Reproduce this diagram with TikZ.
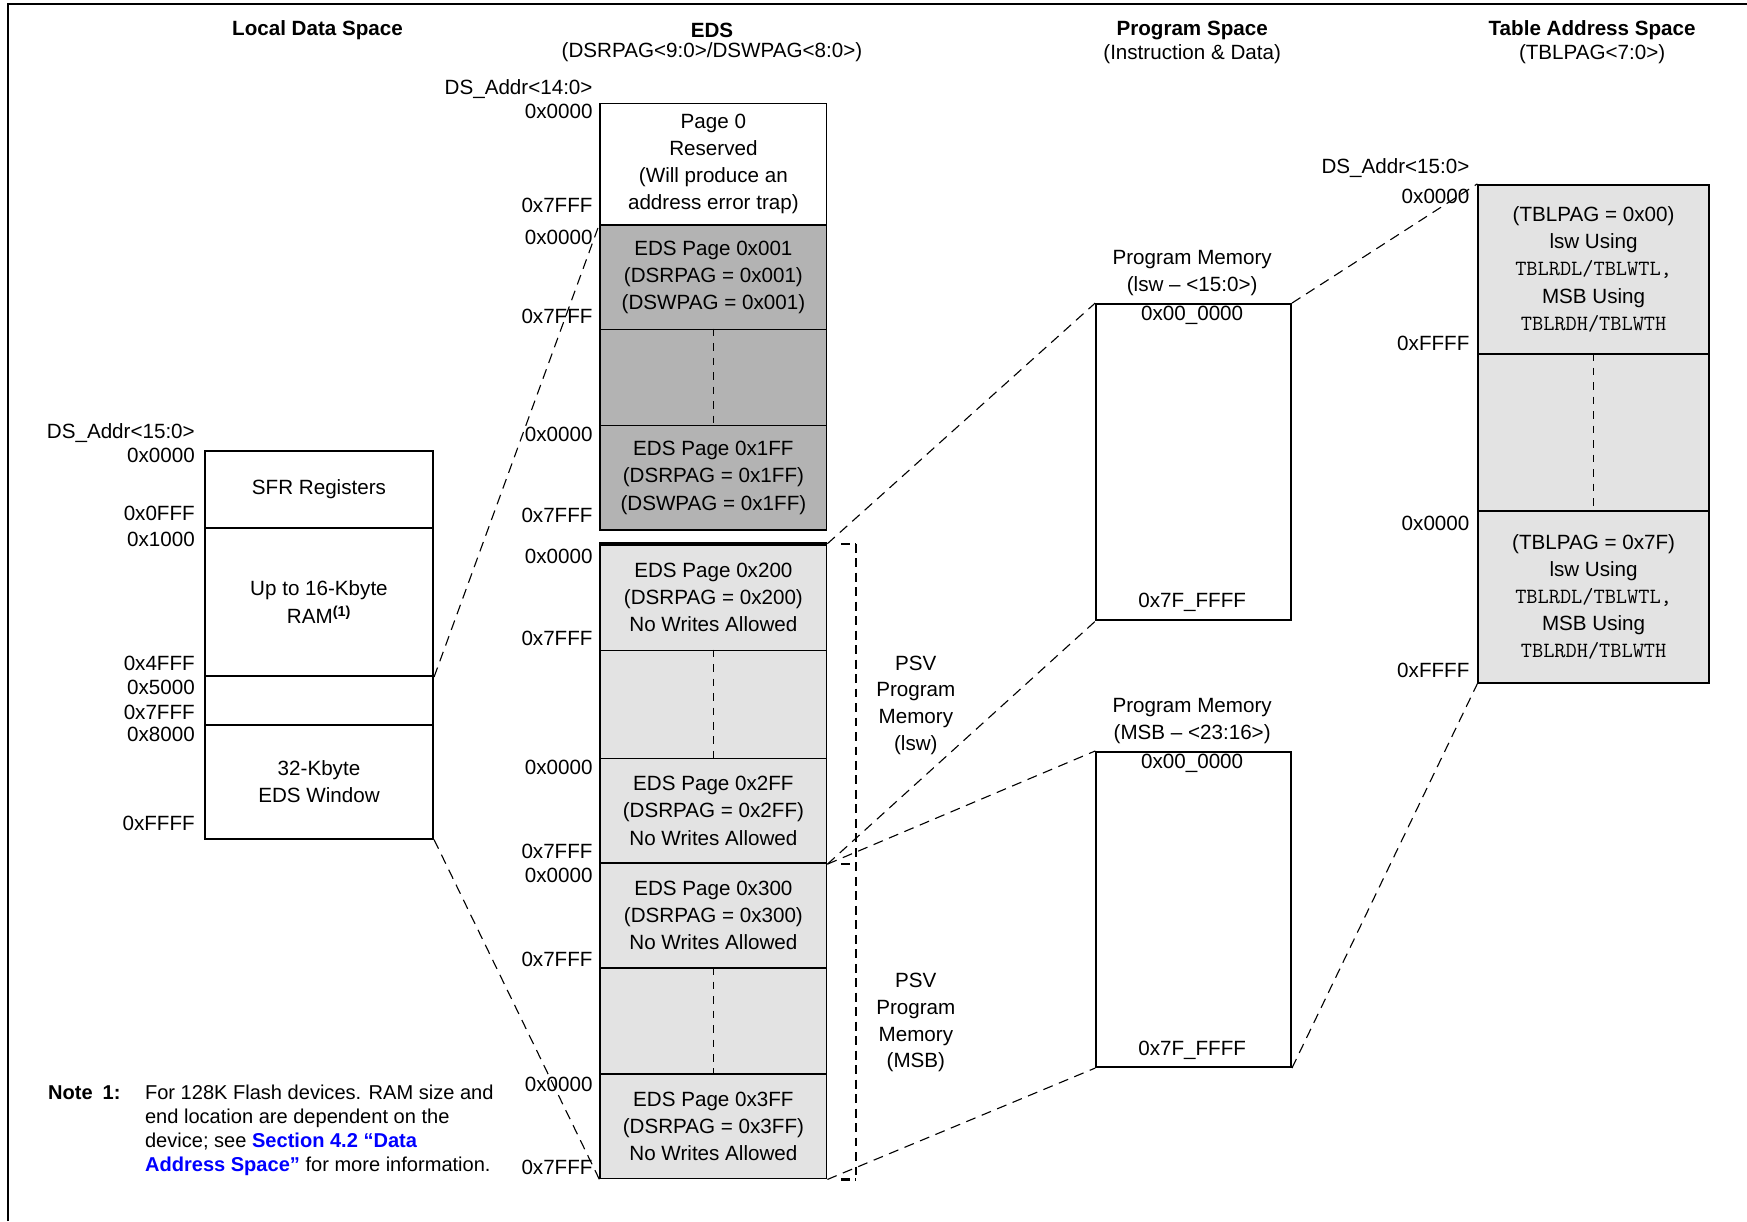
\documentclass[tikz,border=0pt]{standalone}
\usepackage{fontspec}
\setmainfont{Liberation Sans}
\usepackage{tikz}
\usetikzlibrary{positioning}
\usepackage{xcolor}
\definecolor{pagedark}{RGB}{179,179,179}
\definecolor{pagelight}{RGB}{227,227,227}
\definecolor{linkblue}{RGB}{0,0,255}
\tikzset{membox/.style={draw=black, line width=1.6pt, inner sep=0pt, anchor=north west, align=center, font=\fontsize{18.5}{24.4}\selectfont},
darkpage/.style={membox, fill=pagedark},
lightpage/.style={membox, fill=pagelight}}
\tikzset{addrlabel/.style={anchor=east, inner sep=0pt, font=\fontsize{18.5}{22}\selectfont},
plainlabel/.style={inner sep=0pt, align=center, font=\fontsize{18.5}{24}\selectfont},
titlelabel/.style={inner sep=0pt, font=\fontsize{18.5}{22}\selectfont},
notetext/.style={inner sep=0pt, align=left, font=\fontsize{18}{21.4}\selectfont},
maplink/.style={draw=black, line width=1pt, dash pattern=on 9pt off 6pt},
gapline/.style={draw=black, line width=1.2pt, dash pattern=on 7pt off 6pt},
psvbracket/.style={draw=black, line width=2pt, dash pattern=on 8pt off 5pt}}

\begin{document}
\begin{tikzpicture}[x=1pt, y=-1pt, line join=miter]
        \useasboundingbox (0,0) rectangle (1568,1096);
        % Frame
        \draw[line width=1.8pt] (7,1096) -- (7,4) -- (1568,4);
        % Titles
        \node[titlelabel] (localtitle) at (285,27) {\bfseries Local Data Space};
        \node[titlelabel] (edstitle) at (639,27) {\bfseries EDS};
        \node[titlelabel] (edssub) at (639,47) {(DSRPAG<9:0>/DSWPAG<8:0>)};
        \node[titlelabel] (progtitle) at (1070,27) {\bfseries Program Space};
        \node[titlelabel] (progsub) at (1070,49) {(Instruction \& Data)};
        \node[titlelabel] (tbltitle) at (1429,27) {\bfseries Table Address Space};
        \node[titlelabel] (tblsub) at (1429,49) {(TBLPAG<7:0>)};
        % Local data space
        \node[membox, minimum width=205pt, minimum height=69pt] (sfr) at (183,404) {SFR Registers};
        \node[membox, minimum width=205pt, minimum height=133pt] (ram) at (183,473) {Up to 16-Kbyte\\RAM\textsuperscript{\textbf{(1)}}};
        \node[membox, minimum width=205pt, minimum height=44pt] (resv) at (183,606) {};
        \node[membox, minimum width=205pt, minimum height=102pt] (edswin) at (183,650) {32-Kbyte\\EDS Window};
        \node[addrlabel] (ldsaddr) at (175,389) {DS\_Addr<15:0>};
        \foreach \y/\addr in {409/0x0000, 461/0x0FFF, 484/0x1000, 595/0x4FFF, 617/0x5000, 639/0x7FFF, 659/0x8000, 739/0xFFFF} {
            \node[addrlabel] (loc\y) at (175,\y) {\addr};
        }
        % EDS pages
        \node[membox, minimum width=203pt, minimum height=109pt] (page0) at (538,92) {Page 0\\Reserved\\(Will produce an\\address error trap)};
        \node[darkpage, minimum width=203pt, minimum height=94pt] (p001) at (538,201) {EDS Page 0x001\\(DSRPAG = 0x001)\\(DSWPAG = 0x001)};
        \node[darkpage, minimum width=203pt, minimum height=86pt] (gapA) at (538,295) {};
        \node[darkpage, minimum width=203pt, minimum height=94pt] (p1FF) at (538,381) {EDS Page 0x1FF\\(DSRPAG = 0x1FF)\\(DSWPAG = 0x1FF)};
        \node[lightpage, minimum width=203pt, minimum height=95pt] (p200) at (538,488) {EDS Page 0x200\\(DSRPAG = 0x200)\\No Writes Allowed};
        \node[lightpage, minimum width=203pt, minimum height=97pt] (gapB) at (538,583) {};
        \node[lightpage, minimum width=203pt, minimum height=94pt] (p2FF) at (538,680) {EDS Page 0x2FF\\(DSRPAG = 0x2FF)\\No Writes Allowed};
        \node[lightpage, minimum width=203pt, minimum height=94pt] (p300) at (538,774) {EDS Page 0x300\\(DSRPAG = 0x300)\\No Writes Allowed};
        \node[lightpage, minimum width=203pt, minimum height=95pt] (gapC) at (538,868) {};
        \node[lightpage, minimum width=203pt, minimum height=94pt] (p3FF) at (538,963) {EDS Page 0x3FF\\(DSRPAG = 0x3FF)\\No Writes Allowed};
        \draw[line width=2.6pt] (p200.north west) -- (p200.north east);
        \foreach \gap in {gapA, gapB, gapC} {
            \draw[gapline] (\gap.north) -- (\gap.south);
        }
        \node[addrlabel] (edsaddr) at (532,80) {DS\_Addr<14:0>};
        \foreach \y/\addr in {100/0x0000, 184/0x7FFF, 213/0x0000, 284/0x7FFF, 390/0x0000, 463/0x7FFF, 499/0x0000, 573/0x7FFF, 689/0x0000, 764/0x7FFF, 786/0x0000, 861/0x7FFF, 973/0x0000, 1048/0x7FFF} {
            \node[addrlabel] (eds\y) at (532,\y) {\addr};
        }
        % PSV bracket
        \draw[psvbracket] ([xshift=26pt]p200.north east) -- ([xshift=26pt]p3FF.south east);
        \draw[psvbracket] ([xshift=12pt]p200.north east) -- ([xshift=26pt]p200.north east);
        \draw[psvbracket] ([xshift=12pt]p2FF.south east) -- ([xshift=26pt]p2FF.south east);
        \draw[psvbracket] ([xshift=12pt]p3FF.south east) -- ([xshift=26pt]p3FF.south east);
        \node[plainlabel] (psvlsw) at (822,633) {PSV\\Program\\Memory\\(lsw)};
        \node[plainlabel] (psvmsb) at (822,918) {PSV\\Program\\Memory\\(MSB)};
        % Program space
        \node[plainlabel] (pmlswhead) at (1070,245) {Program Memory\\(lsw – <15:0>)};
        \node[membox, minimum width=175pt, minimum height=284pt] (pmlsw) at (983,272) {};
        \node[plainlabel] (pmlswlo) at (1070,283) {0x00\_0000};
        \node[plainlabel] (pmlswhi) at (1070,541) {0x7F\_FFFF};
        \node[plainlabel] (pmmsbhead) at (1070,647) {Program Memory\\(MSB – <23:16>)};
        \node[membox, minimum width=175pt, minimum height=283pt] (pmmsb) at (983,674) {};
        \node[plainlabel] (pmmsblo) at (1070,685) {0x00\_0000};
        \node[plainlabel] (pmmsbhi) at (1070,943) {0x7F\_FFFF};
        % Table address space
        \node[lightpage, minimum width=207pt, minimum height=152pt] (tbl00) at (1326,165) {(TBLPAG = 0x00)\\lsw Using\\{\fontsize{19.5}{24.4}\ttfamily TBLRDL/TBLWTL,}\\MSB Using\\{\fontsize{19.5}{24.4}\ttfamily TBLRDH/TBLWTH}};
        \node[lightpage, minimum width=207pt, minimum height=141pt] (tblgap) at (1326,317) {};
        \node[lightpage, minimum width=207pt, minimum height=154pt] (tbl7F) at (1326,458) {(TBLPAG = 0x7F)\\lsw Using\\{\fontsize{19.5}{24.4}\ttfamily TBLRDL/TBLWTL,}\\MSB Using\\{\fontsize{19.5}{24.4}\ttfamily TBLRDH/TBLWTH}};
        \draw[gapline] (tblgap.north) -- (tblgap.south);
        \node[addrlabel] (tbladdr) at (1319,151) {DS\_Addr<15:0>};
        \foreach \y/\addr in {176/0x0000, 308/0xFFFF, 470/0x0000, 602/0xFFFF} {
            \node[addrlabel] (tbl\y) at (1319,\y) {\addr};
        }
        % Mapping lines
        \draw[maplink] (ram.south east) -- (p001.north west);
        \draw[maplink] (edswin.south east) -- (p3FF.south west);
        \draw[maplink] (p200.north east) -- (pmlsw.north west);
        \draw[maplink] (p2FF.south east) -- (pmlsw.south west);
        \draw[maplink] (p2FF.south east) -- (pmmsb.north west);
        \draw[maplink] (p3FF.south east) -- (pmmsb.south west);
        \draw[maplink] (pmlsw.north east) -- (tbl00.north west);
        \draw[maplink] (pmmsb.south east) -- (tbl7F.south west);
        % Note
        \node[notetext, anchor=west] (notehead) at (43,981) {\bfseries Note\hspace{0.5em}1:};
        \node[notetext, anchor=north west] (notebody) at (130,974) {For 128K Flash devices. RAM size and\\end location are dependent on the\\device; see \textcolor{linkblue}{\bfseries Section 4.2 “Data}\\\textcolor{linkblue}{\bfseries Address Space”} for more information.};
\end{tikzpicture}
\end{document}
